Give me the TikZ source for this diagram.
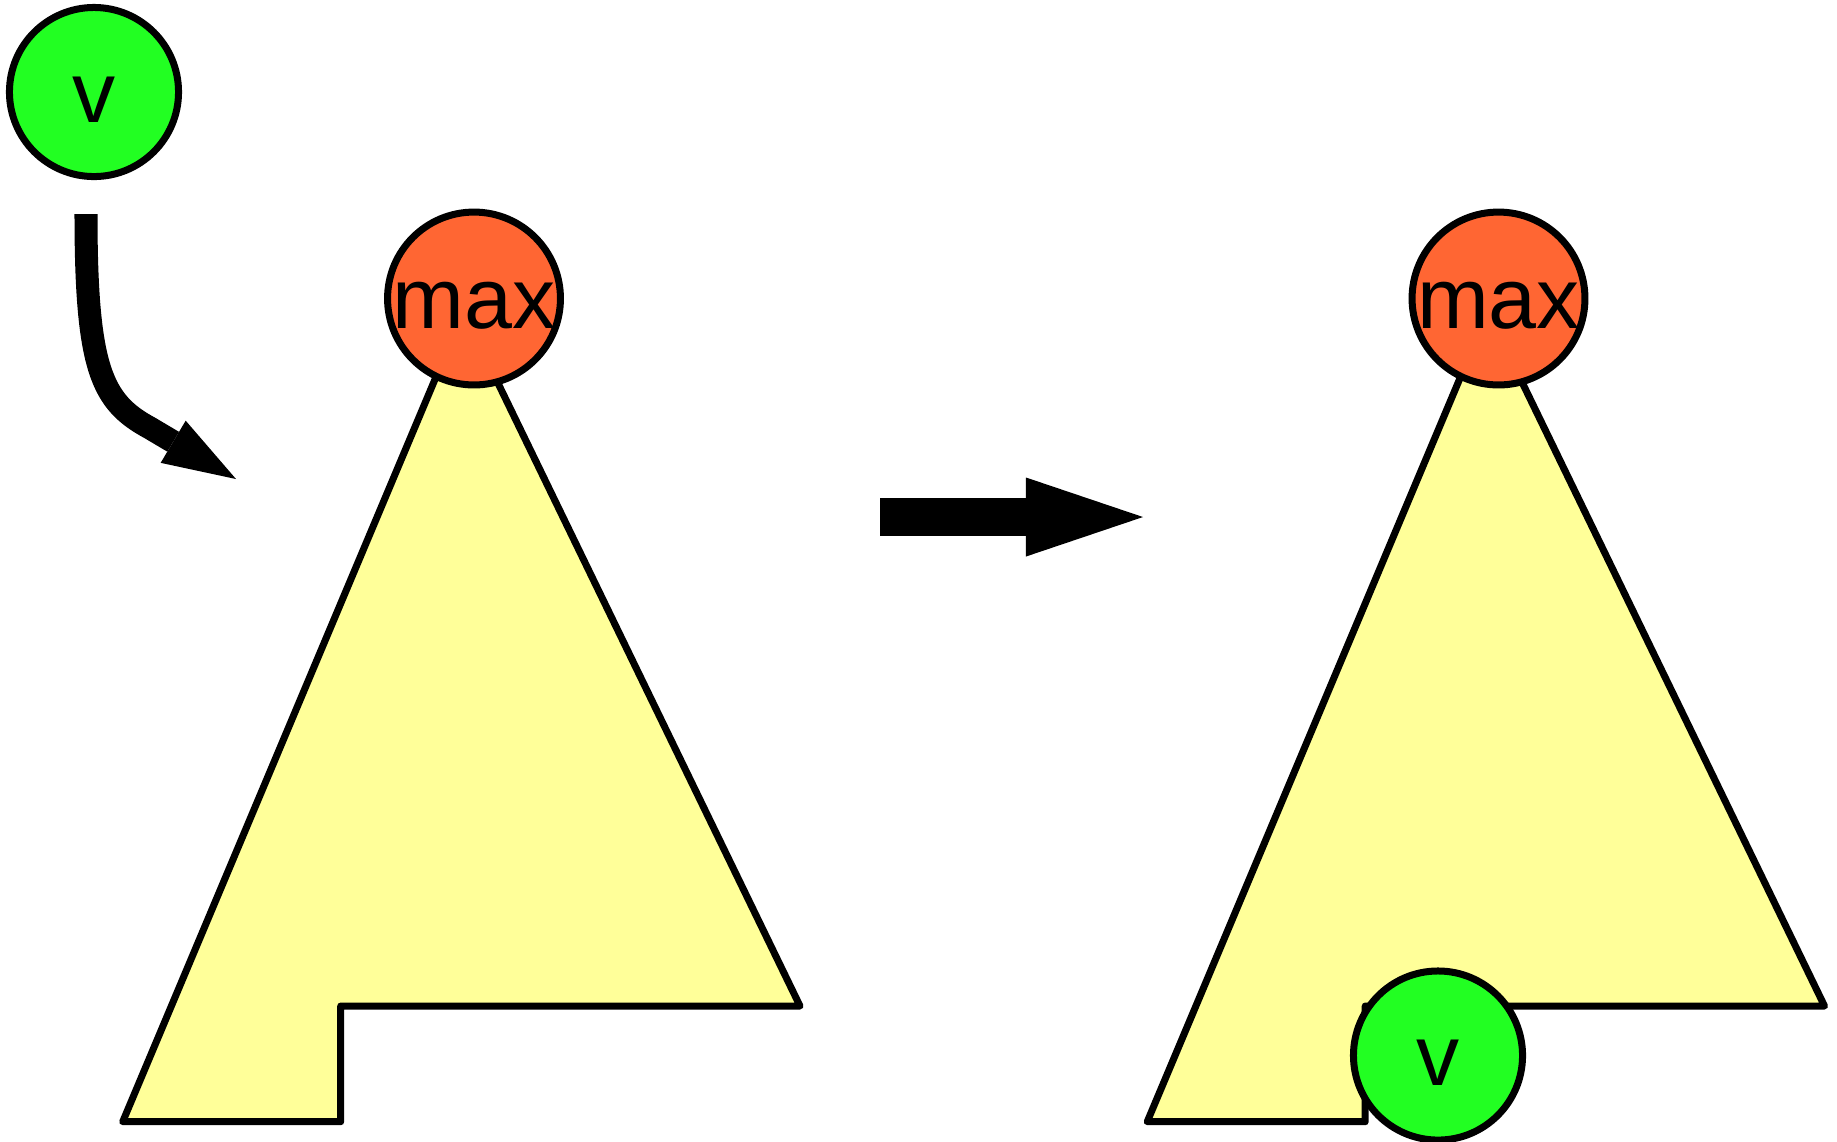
\documentclass[tikz,border=0pt]{standalone}
\usepackage{fontspec}
\setmainfont{Liberation Sans}
\usetikzlibrary{arrows.meta}
\definecolor{keygreen}{HTML}{22FF22}
\definecolor{maxorange}{HTML}{FF6633}
\definecolor{heapyellow}{HTML}{FFFF99}

\begin{document}
\begin{tikzpicture}[x=0.01cm, y=-0.01cm,
    key/.style={circle, draw=black, line width=0.07cm, minimum size=1.69cm, inner sep=0pt,
                font=\fontsize{24.5}{29}\selectfont, text height=0.6cm, text depth=0pt},
    heap/.style={draw=black, fill=heapyellow, line width=0.07cm, line join=round}]
    \useasboundingbox (0,0) rectangle (1837,1141);
    % left tree, before
    \draw [heap] (122.7,1121.7) -- (340.7,1121.7) -- (340.7,1006)
                 -- (800,1006) -- (463.4,311.8) -- cycle;
    \node [key, fill=maxorange] (maxL) at (474,298.5) {max};
    \node [key, fill=keygreen] (vL) at (94,92) {v};
    % v drops in
    \coordinate (dropS) at (86,214);
    \coordinate (dropE) at (236,479);
    \draw [line width=0.23cm, -{Triangle[length=7.3mm, width=4.9mm, line width=0pt]}]
          (dropS) .. controls (86,370) and (102,402) .. (150,428) -- (dropE);
    % step arrow
    \coordinate (stepS) at (880,517);
    \coordinate (stepE) at (1143,517);
    \draw [line width=0.38cm, -{Triangle[length=11.7mm, width=7.9mm, line width=0pt]}]
          (stepS) -- (stepE);
    % right tree, after
    \draw [heap] (1147.2,1121.7) -- (1365.2,1121.7) -- (1365.2,1006)
                 -- (1824.5,1006) -- (1487.9,311.8) -- cycle;
    \node [key, fill=maxorange] (maxR) at (1498.5,298.5) {max};
    \node [key, fill=keygreen] (vR) at (1438,1055.5) {v};
\end{tikzpicture}
\end{document}
